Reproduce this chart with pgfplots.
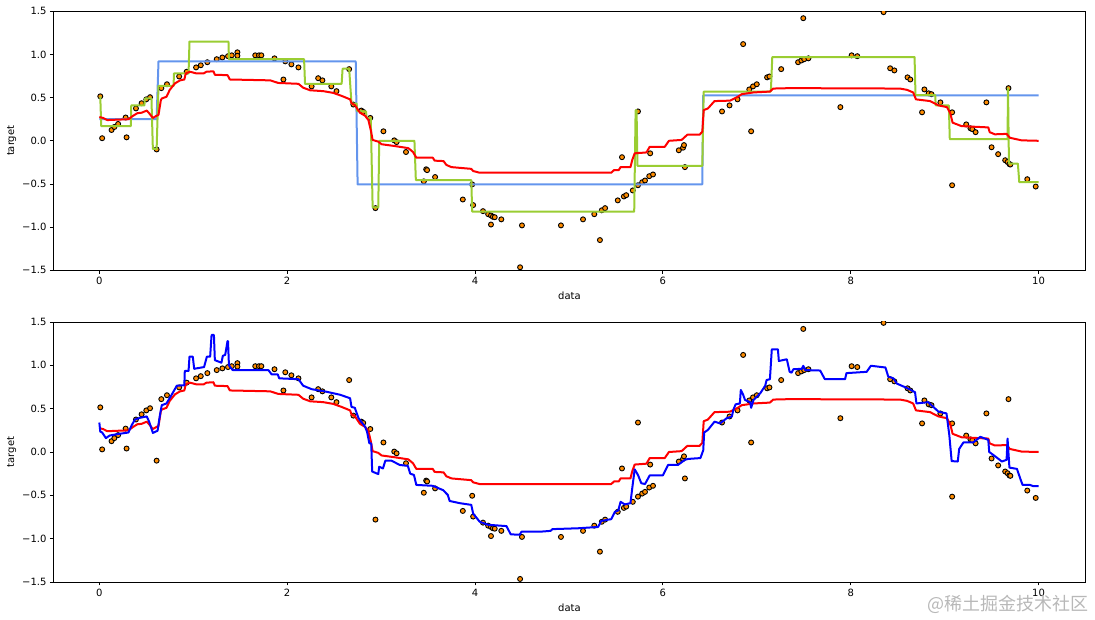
\documentclass[border=0pt]{standalone}
\usepackage{pgfplots}
\usepackage{pgfplotstable}
\usepackage{fontspec}
\setmainfont{DejaVu Sans}
\newfontfamily\cjk{Noto Sans CJK SC}
\pgfplotsset{compat=1.18}
\definecolor{myorange}{HTML}{FF8C00}
\definecolor{myblue}{HTML}{6495ED}
\definecolor{mygreen}{HTML}{9ACD32}
\pgfplotstableread[row sep=\\]{x y\\
0.01 0.515\\0.03 0.03\\0.13 0.125\\0.16 0.16\\0.20 0.195\\0.28 0.27\\0.29 0.04\\0.39 0.375\\0.45 0.435\\0.50 0.48\\0.54 0.505\\0.61 -0.10\\0.66 0.61\\0.72 0.655\\0.85 0.745\\0.93 0.80\\0.99 1.51\\1.03 0.85\\1.08 0.875\\1.15 0.91\\1.25 0.945\\1.31 0.965\\1.37 0.98\\1.41 0.99\\1.47 1.025\\1.47 0.985\\1.66 0.99\\1.70 0.99\\1.725 0.99\\1.865 0.955\\1.96 0.71\\1.98 0.92\\2.045 0.885\\2.12 0.85\\2.26 0.63\\2.33 0.725\\2.375 0.70\\2.47 0.63\\2.525 0.575\\2.66 0.83\\2.705 0.42\\2.79 0.35\\2.81 0.335\\2.885 0.265\\2.94 -0.78\\3.025 0.11\\3.14 0.005\\3.165 -0.015\\3.265 -0.13\\3.48 -0.33\\3.49 -0.34\\3.455 -0.47\\3.575 -0.42\\3.87 -0.68\\3.97 -0.505\\3.98 -0.745\\4.085 -0.815\\4.14 -0.85\\4.17 -0.865\\4.19 -0.88\\4.21 -0.885\\4.17 -0.97\\4.28 -0.91\\4.48 -1.465\\4.50 -0.98\\4.915 -0.98\\5.15 -0.91\\5.27 -0.85\\5.33 -1.15\\5.35 -0.805\\5.385 -0.78\\5.52 -0.69\\5.585 -0.645\\5.61 -0.63\\5.565 -0.19\\5.68 -0.575\\5.735 -0.515\\5.735 0.34\\5.78 -0.48\\5.81 -0.46\\5.855 -0.41\\5.895 -0.39\\5.865 -0.145\\6.17 -0.11\\6.215 -0.08\\6.225 -0.05\\6.235 -0.305\\6.63 0.34\\6.71 0.41\\6.795 0.48\\6.855 1.12\\6.92 0.595\\6.94 0.11\\6.96 0.63\\7.0 0.655\\7.11 0.735\\7.135 0.745\\7.26 0.83\\7.495 1.42\\7.44 0.91\\7.475 0.93\\7.505 0.945\\7.55 0.955\\7.89 0.39\\8.01 0.99\\8.07 0.98\\8.35 1.49\\8.42 0.84\\8.465 0.815\\8.605 0.735\\8.635 0.71\\8.76 0.33\\8.785 0.595\\8.83 0.55\\8.86 0.54\\8.955 0.445\\9.08 0.33\\9.08 -0.515\\9.23 0.19\\9.275 0.145\\9.295 0.135\\9.33 0.10\\9.445 0.445\\9.5 -0.075\\9.57 -0.155\\9.645 -0.225\\9.67 -0.245\\9.69 -0.27\\9.70 -0.275\\9.68 0.61\\9.88 -0.445\\9.97 -0.53\\
}\scat
\pgfplotstableread[row sep=\\]{x y\\
0 0.25\\0.61 0.25\\0.63 0.92\\2.73 0.92\\2.75 -0.505\\6.42 -0.505\\6.43 0.525\\10 0.525\\
}\bluestep
\pgfplotstableread[row sep=\\]{x y\\
0.01 0.515\\0.02 0.17\\0.335 0.17\\0.34 0.41\\0.48 0.41\\0.485 0.49\\0.555 0.49\\0.57 -0.095\\0.61 -0.095\\0.63 0.635\\0.79 0.635\\0.795 0.78\\0.95 0.78\\0.96 1.15\\1.375 1.15\\1.38 0.945\\2.18 0.945\\2.19 0.66\\2.58 0.66\\2.59 0.835\\2.66 0.835\\2.685 0.43\\2.74 0.43\\2.745 0.345\\2.84 0.34\\2.845 0.265\\2.89 0.265\\2.91 -0.77\\2.97 -0.77\\2.98 0\\3.355 0\\3.37 -0.455\\3.96 -0.455\\3.97 -0.82\\5.695 -0.82\\5.71 0.355\\5.72 0.355\\5.73 -0.29\\6.42 -0.29\\6.435 0.57\\7.15 0.57\\7.165 0.97\\8.68 0.97\\8.69 0.53\\8.9 0.53\\8.905 0.41\\9.045 0.41\\9.055 0.02\\9.67 0.02\\9.675 0.61\\9.685 -0.265\\9.78 -0.265\\9.795 -0.48\\10 -0.48\\
}\greenstep
\pgfplotstableread[row sep=\\]{x y\\
0 0.275\\0.04 0.265\\0.085 0.24\\0.31 0.25\\0.36 0.29\\0.405 0.32\\0.45 0.325\\0.505 0.35\\0.53 0.32\\0.57 0.265\\0.61 0.29\\0.63 0.30\\0.655 0.47\\0.665 0.49\\0.715 0.51\\0.75 0.59\\0.805 0.665\\0.86 0.70\\0.905 0.71\\0.92 0.78\\0.965 0.80\\1.035 0.78\\1.11 0.78\\1.14 0.80\\1.215 0.805\\1.23 0.765\\1.365 0.76\\1.39 0.71\\1.82 0.70\\1.905 0.67\\2.12 0.66\\2.17 0.615\\2.245 0.585\\2.385 0.575\\2.49 0.555\\2.58 0.52\\2.67 0.48\\2.685 0.435\\2.72 0.415\\2.775 0.325\\2.83 0.29\\2.865 0.24\\2.89 0.125\\2.91 0.01\\2.97 -0.01\\3.005 -0.04\\3.14 -0.06\\3.29 -0.085\\3.34 -0.13\\3.375 -0.195\\3.55 -0.195\\3.57 -0.23\\3.665 -0.235\\3.695 -0.28\\3.75 -0.305\\3.96 -0.325\\3.98 -0.35\\4.05 -0.37\\5.45 -0.37\\5.48 -0.34\\5.53 -0.34\\5.55 -0.305\\5.655 -0.305\\5.675 -0.22\\5.70 -0.145\\5.825 -0.135\\5.86 -0.07\\6.02 -0.07\\6.065 0\\6.2 0.01\\6.26 0.07\\6.39 0.07\\6.42 0.105\\6.435 0.355\\6.48 0.375\\6.55 0.46\\6.715 0.465\\6.79 0.505\\6.84 0.54\\6.965 0.56\\7.14 0.57\\7.175 0.605\\7.355 0.61\\8.525 0.605\\8.6 0.59\\8.665 0.56\\8.695 0.48\\8.845 0.46\\8.935 0.41\\9.025 0.39\\9.06 0.32\\9.085 0.21\\9.18 0.17\\9.465 0.155\\9.48 0.10\\9.535 0.075\\9.66 0.08\\9.695 0.035\\9.82 0.005\\10 0\\
}\redline
\pgfplotstableread[row sep=\\]{x y\\
0 0.34\\0.01 0.235\\0.03 0.225\\0.07 0.16\\0.11 0.19\\0.185 0.205\\0.31 0.225\\0.345 0.31\\0.38 0.375\\0.435 0.395\\0.505 0.41\\0.53 0.35\\0.57 0.22\\0.62 0.245\\0.645 0.425\\0.665 0.54\\0.715 0.56\\0.77 0.66\\0.825 0.765\\0.905 0.77\\0.91 0.935\\0.95 0.935\\0.96 1.10\\0.995 1.10\\1.01 0.96\\1.115 0.98\\1.145 1.10\\1.18 1.10\\1.195 1.35\\1.22 1.35\\1.23 1.06\\1.30 1.03\\1.315 1.11\\1.34 1.12\\1.365 1.28\\1.37 1.28\\1.38 1.00\\1.42 0.945\\1.80 0.945\\1.835 0.895\\1.90 0.895\\1.915 0.85\\2.12 0.84\\2.17 0.765\\2.26 0.725\\2.42 0.695\\2.565 0.66\\2.67 0.62\\2.685 0.52\\2.72 0.51\\2.76 0.39\\2.83 0.29\\2.85 0.235\\2.875 0.10\\2.895 0.10\\2.905 -0.225\\2.97 -0.255\\2.98 -0.17\\3.02 -0.19\\3.045 -0.10\\3.11 -0.10\\3.2 -0.15\\3.285 -0.16\\3.31 -0.25\\3.35 -0.265\\3.375 -0.38\\3.55 -0.39\\3.66 -0.44\\3.71 -0.495\\3.73 -0.565\\3.835 -0.59\\3.96 -0.61\\3.98 -0.71\\4.05 -0.805\\4.14 -0.84\\4.335 -0.855\\4.38 -0.95\\4.475 -0.955\\4.495 -0.92\\4.69 -0.92\\4.805 -0.91\\4.825 -0.89\\5.10 -0.88\\5.31 -0.865\\5.345 -0.795\\5.45 -0.775\\5.49 -0.69\\5.525 -0.675\\5.55 -0.575\\5.595 -0.605\\5.655 -0.59\\5.675 -0.41\\5.70 -0.20\\5.735 -0.265\\5.77 -0.36\\5.81 -0.37\\5.86 -0.27\\6.0 -0.27\\6.055 -0.15\\6.16 -0.15\\6.235 -0.09\\6.27 -0.08\\6.40 -0.07\\6.43 0.02\\6.44 0.225\\6.48 0.255\\6.55 0.35\\6.61 0.33\\6.68 0.39\\6.735 0.41\\6.75 0.485\\6.775 0.55\\6.82 0.56\\6.83 0.715\\6.855 0.66\\6.875 0.60\\6.93 0.575\\6.94 0.51\\6.965 0.60\\7.035 0.675\\7.09 0.765\\7.105 0.83\\7.14 0.84\\7.16 1.185\\7.225 1.185\\7.235 1.05\\7.32 1.07\\7.35 0.925\\7.37 0.915\\7.39 0.955\\7.48 0.96\\7.495 0.995\\7.515 0.945\\7.675 0.94\\7.725 0.84\\7.94 0.84\\7.955 0.91\\8.17 0.925\\8.215 0.995\\8.37 0.975\\8.40 0.87\\8.455 0.85\\8.49 0.79\\8.595 0.74\\8.685 0.69\\8.70 0.56\\8.825 0.575\\8.935 0.465\\9.02 0.445\\9.05 0.195\\9.075 -0.105\\9.14 -0.11\\9.155 0.035\\9.2 0.11\\9.305 0.11\\9.38 0.175\\9.465 0.14\\9.475 0\\9.52 -0.035\\9.61 -0.11\\9.66 -0.09\\9.67 0.155\\9.69 -0.18\\9.77 -0.195\\9.805 -0.305\\9.83 -0.38\\9.91 -0.38\\9.945 -0.395\\10 -0.395\\
}\bluecurve
\pgfplotsset{panel/.style={
  scale only axis, width=1032pt, height=259pt,
  xmin=-0.488, xmax=10.5, ymin=-1.5, ymax=1.5,
  xtick={0,2,4,6,8,10}, xticklabels={0,2,4,6,8,10},
  ytick={-1.5,-1,-0.5,0,0.5,1,1.5},
  yticklabels={−1.5,−1.0,−0.5,0.0,0.5,1.0,1.5},
  tick pos=left, tick align=outside, major tick length=3.5pt,
  every tick/.style={black, line width=0.8pt},
  axis line style={line width=0.8pt, black},
  tick label style={font=\fontsize{10}{12}\selectfont},
  label style={font=\fontsize{10}{12}\selectfont},
  xlabel=data, ylabel=target,
  xlabel style={yshift=-0.5pt},
  ylabel style={yshift=-1pt},
  clip marker paths=true,
  scatterpts/.style={only marks, mark=*, mark size=2.5pt, mark options={fill=myorange, draw=black, line width=0.9pt}},
  fitline/.style={no marks, line width=2pt, line join=round},
}}
\begin{document}
\begin{tikzpicture}[x=1pt,y=1pt]
\path[use as bounding box] (0,0) rectangle (1095,620);
\begin{axis}[panel, at={(53.5pt,349.7pt)}, anchor=south west]
\addplot[scatterpts] table[x=x,y=y] {\scat};
\addplot[fitline, myblue] table[x=x,y=y] {\bluestep};
\addplot[fitline, mygreen] table[x=x,y=y] {\greenstep};
\addplot[fitline, red] table[x=x,y=y] {\redline};
\end{axis}
\begin{axis}[panel, at={(53.5pt,38pt)}, anchor=south west, height=260pt]
\addplot[scatterpts] table[x=x,y=y] {\scat};
\addplot[fitline, red] table[x=x,y=y] {\redline};
\addplot[fitline, blue] table[x=x,y=y] {\bluecurve};
\end{axis}
\node[anchor=east, text=black!28, inner sep=0pt] at (1089,16) {\fontsize{18}{20}\selectfont\cjk @稀土掘金技术社区};
\end{tikzpicture}
\end{document}
